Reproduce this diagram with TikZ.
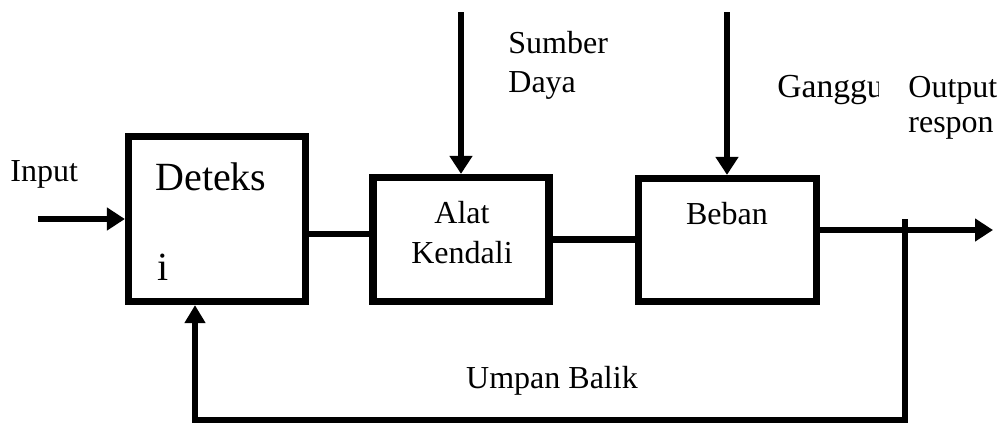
\documentclass[tikz,border=0pt]{standalone}
\usepackage{fontspec}
\setmainfont{Liberation Serif}
\usetikzlibrary{arrows.meta,positioning}
\tikzset{
  block/.style={draw,line width=3.6pt,inner sep=0pt},
  link/.style={line width=3.2pt},
  sig/.style={-{Triangle[length=9pt,width=11pt]},line width=3.2pt},
  fb/.style={-{Triangle[length=9pt,width=10pt]},line width=2.6pt},
  lbl/.style={font=\fontsize{16}{19}\selectfont,inner sep=0pt},
  big/.style={font=\fontsize{20}{24}\selectfont,inner sep=0pt}
}
\begin{document}
\begin{tikzpicture}[x=0.5pt,y=-0.5pt]
    \useasboundingbox (0,0) rectangle (1003,425);
    % blocks
    \node[block,minimum width=88.5pt,minimum height=82.5pt] (det) at (217,219) {};
    \node[block,minimum width=88pt,minimum height=62pt] (alat) at (461,239.5) {};
    \node[block,minimum width=89pt,minimum height=61.5pt] (beban) at (727.5,240) {};
    \node[big,anchor=base west] (dettxt) at (155,190) {Deteks};
    \node[big,anchor=base west] (dettxtb) at (157,280) {i};
    \node[lbl,anchor=base] (alattxt) at (462,223) {Alat};
    \node[lbl,anchor=base] (alattxtb) at (462,263) {Kendali};
    \node[lbl,anchor=base] (bebantxt) at (727,224) {Beban};
    % labels
    \node[lbl,anchor=base west] (inlbl) at (10,181) {Input};
    \node[lbl,anchor=base west] (sdlbl) at (508,53) {Sumber};
    \node[lbl,anchor=base west] (sdlblb) at (508,92) {Daya};
    \begin{scope}
      \clip (770,60) rectangle (878,110);
      \node[lbl,anchor=base west,font=\fontsize{16.8}{19}\selectfont] (gglbl) at (777,97) {Gangguan};
    \end{scope}
    \node[lbl,anchor=base west] (outlbl) at (908,97) {Output};
    \node[lbl,anchor=base west] (outlblb) at (908,132) {respon};
    \node[lbl,anchor=base] (fblbl) at (552,388) {Umpan Balik};
    % signals
    \coordinate (in) at (38,219);
    \coordinate (sd) at (461,12);
    \coordinate (gg) at (727,12);
    \coordinate (out) at (993,230);
    \coordinate (tap) at (905,219);
    \coordinate (fbl) at (195,420);
    \coordinate (d2a) at (307,234);
    \draw[sig] (in) -- (in -| det.west);
    \draw[sig] (sd) -- (sd |- alat.north);
    \draw[sig] (gg) -- (gg |- beban.north);
    \draw[link] (d2a -| det.east) -- (d2a -| alat.west);
    \draw[link] (alat.east) -- (alat.east -| beban.west);
    \draw[sig] (out -| beban.east) -- (out);
    \draw[fb] (tap) |- (fbl) -- (fbl |- det.south);
  \end{tikzpicture}
\end{document}
